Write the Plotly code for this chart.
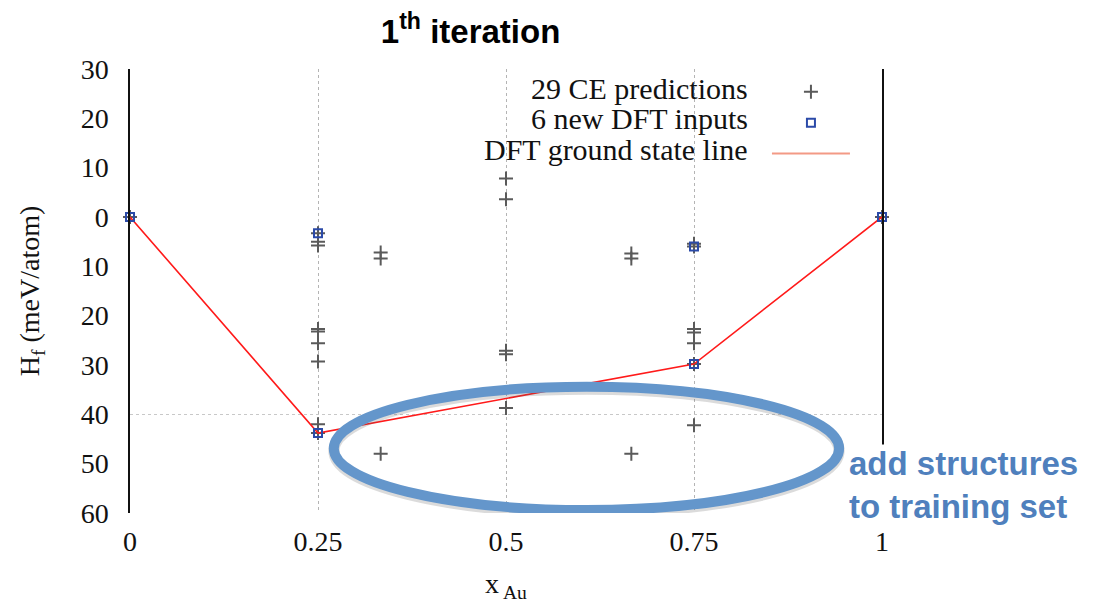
import plotly.graph_objects as go

# ---------------- data ----------------
ce_x = [0, 0.25, 0.25, 0.25, 0.25, 0.25, 0.25, 0.25, 0.25, 0.25,
        1/3, 1/3, 1/3,
        0.5, 0.5, 0.5, 0.5, 0.5,
        2/3, 2/3, 2/3,
        0.75, 0.75, 0.75, 0.75, 0.75, 0.75, 0.75,
        1]
ce_y = [0, -3.3, -5.0, -5.8, -22.7, -23.2, -25.6, -29.3, -42.0, -43.8,
        -7.2, -8.4, -48.0,
        7.8, 3.6, -27.1, -27.8, -38.7,
        -7.4, -8.4, -48.0,
        -5.4, -6.0, -22.7, -23.4, -25.6, -29.8, -42.2,
        0]

dft_x = [0, 0.25, 0.25, 0.75, 0.75, 1]
dft_y = [0, -3.3, -43.8, -6.0, -29.8, 0]

gs_x = [0, 0.25, 0.75, 1]
gs_y = [0, -43.8, -29.8, 0]

legend_labels = ["29 CE predictions", "6 new DFT inputs", "DFT ground state line"]

y_tickvals = [30, 20, 10, 0, -10, -20, -30, -40, -50, -60]
y_ticktext = ["30", "20", "10", "0", "10", "20", "30", "40", "50", "60"]
x_tickvals = [0, 0.25, 0.5, 0.75, 1]
x_ticktext = ["0", "0.25", "0.5", "0.75", "1"]

# highlighted region (ellipse) in data units
ell_x = [0.271, 0.943]
ell_y = [-59.4, -34.4]

# ---------------- styles ----------------
SERIF = "Liberation Serif, Times New Roman, serif"
SANS = "Liberation Sans, Arial, sans-serif"
CROSS_C = "#5a5a5a"
SQ_C = "#2b4aa8"
LINE_C = "#ff1a1a"
LEG_LINE_C = "#f39a85"
ELL_C = "#6496cb"
TXT_BLUE = "#4f80bd"

fig = go.Figure()

fig.add_trace(go.Scatter(
    x=ce_x, y=ce_y, mode="markers", name="",
    marker=dict(symbol="cross-thin-open", size=10, color=CROSS_C,
                line=dict(color=CROSS_C, width=2)),
    cliponaxis=False, showlegend=True))

fig.add_trace(go.Scatter(
    x=gs_x, y=gs_y, mode="lines", name="",
    line=dict(color=LINE_C, width=1.6),
    cliponaxis=False, showlegend=False))

fig.add_trace(go.Scatter(
    x=dft_x, y=dft_y, mode="markers", name="",
    marker=dict(symbol="square-open", size=8, color=SQ_C,
                line=dict(color=SQ_C, width=2)),
    cliponaxis=False, showlegend=True))

# legend-only sample for the ground state line (lighter tone as in the key)
fig.add_trace(go.Scatter(
    x=[None], y=[None], mode="lines", name="",
    line=dict(color=LEG_LINE_C, width=2), showlegend=True))

# ellipse soft shadow + ellipse
fig.add_shape(type="circle", xref="x", yref="y",
              x0=ell_x[0], x1=ell_x[1], y0=ell_y[0] - 0.5, y1=ell_y[1] - 0.5,
              line=dict(color="rgba(90,90,90,0.22)", width=11), layer="above")
fig.add_shape(type="circle", xref="x", yref="y",
              x0=ell_x[0], x1=ell_x[1], y0=ell_y[0], y1=ell_y[1],
              line=dict(color=ELL_C, width=10), layer="above")

# legend texts (right aligned, symbols drawn by legend to their right)
row_y = [0.957, 0.888, 0.818]
for lab, yy in zip(legend_labels, row_y):
    fig.add_annotation(text=lab, xref="paper", yref="paper", x=0.8245, y=yy,
                       xanchor="right", yanchor="middle", showarrow=False,
                       font=dict(family=SERIF, size=30, color="#111"))

# blue note
fig.add_annotation(text="<b>add structures<br>to training set</b>",
                   xref="paper", yref="paper", x=0.955, y=0.062,
                   xanchor="left", yanchor="middle", align="left",
                   showarrow=False, bgcolor="white", borderpad=0,
                   font=dict(family=SANS, size=33, color=TXT_BLUE))

fig.update_layout(
    width=1112, height=606,
    margin=dict(l=122, r=238, t=61, b=101, autoexpand=False),
    paper_bgcolor="white", plot_bgcolor="white",
    title=dict(text="<b>1<sup>th</sup> iteration</b>", x=0.416, xanchor="center",
               y=0.962, yanchor="middle", xref="container", yref="container",
               font=dict(family=SANS, size=33, color="black")),
    legend=dict(x=0.847, y=0.995, xanchor="left", yanchor="top",
                font=dict(size=21.5), itemwidth=78, bgcolor="rgba(0,0,0,0)",
                borderwidth=0, tracegroupgap=0),
    showlegend=True,
)

fig.update_xaxes(
    range=[0, 1], tickvals=x_tickvals, ticktext=x_ticktext, automargin=False,
    showgrid=True, gridcolor="#b4b4b4", griddash="dot", gridwidth=1,
    zeroline=False, showline=False,
    ticks="outside", ticklen=3, tickcolor="rgba(0,0,0,0)",
    tickfont=dict(family=SERIF, size=28, color="#111"),
    title=dict(text="x<sub> Au</sub>", standoff=17,
               font=dict(family=SERIF, size=28, color="#111")),
)

fig.update_yaxes(
    range=[-60, 30], tickvals=y_tickvals, ticktext=y_ticktext, automargin=False,
    showgrid=False, zeroline=False,
    showline=True, mirror=True, linecolor="#111", linewidth=1.5,
    ticks="outside", ticklen=14, tickcolor="rgba(0,0,0,0)",
    tickfont=dict(family=SERIF, size=28, color="#111"),
    title=dict(text="H<sub>f</sub> (meV/atom)", standoff=33,
               font=dict(family=SERIF, size=28, color="#111")),
)

# secondary axis used only for the single horizontal grid line at -40
fig.update_layout(yaxis2=dict(
    overlaying="y", range=[-60, 30], tickvals=[-40], showticklabels=False,
    showgrid=True, gridcolor="#c8c8c8", griddash="dot", gridwidth=1,
    zeroline=False, showline=False, ticks="", automargin=False))
fig.add_trace(go.Scatter(x=[None], y=[None], yaxis="y2", showlegend=False,
                         hoverinfo="skip"))

fig.write_html("out.html")
